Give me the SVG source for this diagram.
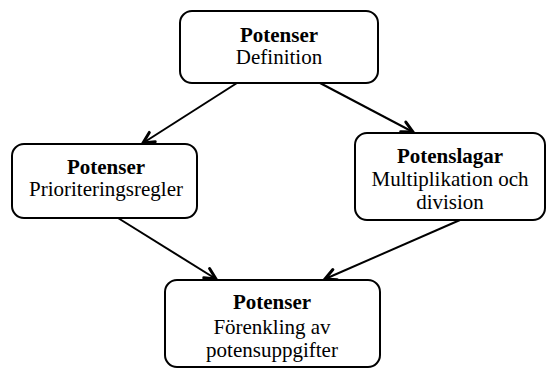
<svg xmlns="http://www.w3.org/2000/svg" width="558" height="370" viewBox="0 0 558 370">
<style>
.box{fill:#fff;stroke:#000;stroke-width:2}
.t{font-family:"Liberation Serif","Times New Roman",serif;font-size:21px;text-anchor:middle;fill:#000}
.b{font-weight:bold}
.c{stroke:#000;stroke-width:2;fill:none}
</style>
<defs>
<marker id="ah" viewBox="0 0 16 16" refX="14" refY="8" markerWidth="16" markerHeight="16" markerUnits="userSpaceOnUse" orient="auto">
<path d="M3,2.5 L14,8 L3,13.5" fill="none" stroke="#000" stroke-width="3" stroke-linecap="round"/>
</marker>
</defs>
<rect width="558" height="370" fill="#fff"/>
<g id="connectors">
<line class="c" x1="237" y1="83" x2="143" y2="143" marker-end="url(#ah)"/>
<line class="c" x1="320" y1="83" x2="413" y2="132" marker-end="url(#ah)"/>
<line class="c" x1="118" y1="218" x2="216" y2="279" marker-end="url(#ah)"/>
<line class="c" x1="460" y1="220" x2="325" y2="279" marker-end="url(#ah)"/>
</g>
<g id="n1">
<rect class="box" x="180" y="11" width="198" height="72" rx="12"/>
<text class="t b" x="279" y="42">Potenser</text>
<text class="t" x="279" y="64">Definition</text>
</g>
<g id="n2">
<rect class="box" x="12" y="144" width="185" height="74" rx="12"/>
<text class="t b" x="106" y="174">Potenser</text>
<text class="t" x="106" y="196">Prioriteringsregler</text>
</g>
<g id="n3">
<rect class="box" x="355" y="133" width="190" height="87" rx="12"/>
<text class="t b" x="450" y="163">Potenslagar</text>
<text class="t" x="450" y="186">Multiplikation och</text>
<text class="t" x="450" y="209">division</text>
</g>
<g id="n4">
<rect class="box" x="165" y="280" width="215" height="87" rx="12"/>
<text class="t b" x="272" y="309">Potenser</text>
<text class="t" x="272" y="334">Förenkling av</text>
<text class="t" x="272" y="357">potensuppgifter</text>
</g>
</svg>
